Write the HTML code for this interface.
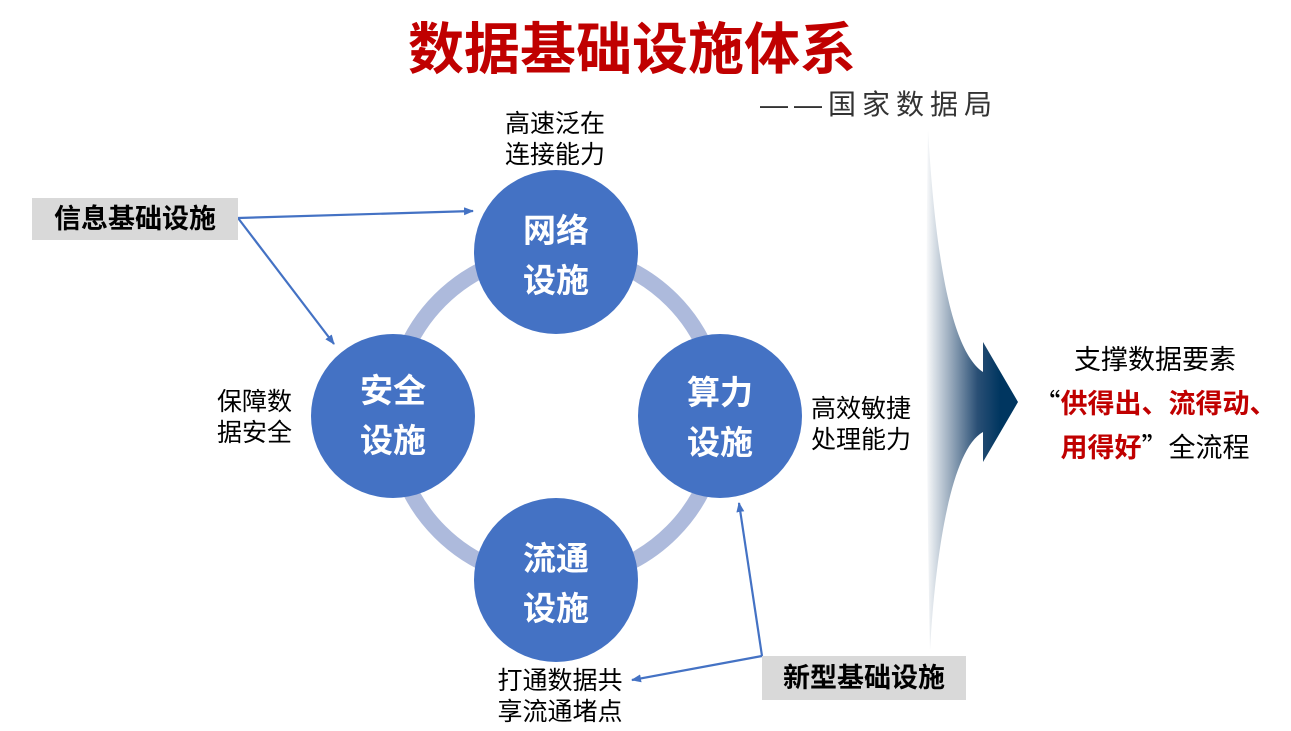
<!DOCTYPE html>
<html><head><meta charset="utf-8"><style>
body{margin:0;width:1291px;height:731px;background:#fff;overflow:hidden;position:relative;font-family:"Liberation Sans","Noto Sans CJK SC",sans-serif}
.t{position:absolute;white-space:nowrap}
.box{position:absolute;background:#d9d9d9;font-weight:bold;font-size:27px;color:#000;text-align:center}
.q{font-family:"Noto Sans CJK SC",sans-serif}
</style></head><body>
<svg width="1291" height="731" style="position:absolute;left:0;top:0">
<defs>
<linearGradient id="g" x1="925" y1="0" x2="1000" y2="0" gradientUnits="userSpaceOnUse">
<stop offset="0" stop-color="#fff"/><stop offset="0.7" stop-color="#2a4f75"/><stop offset="1" stop-color="#003660"/></linearGradient>
<marker id="a" markerWidth="10" markerHeight="8" refX="9" refY="4" orient="auto" markerUnits="userSpaceOnUse"><path d="M0,0 L10,4 L0,8z" fill="#4472c4"/></marker>
</defs>
<circle cx="556" cy="416" r="164" fill="none" stroke="#adbadc" stroke-width="16"/>
<circle cx="556" cy="252" r="82" fill="#4472c4"/>
<circle cx="393" cy="416" r="82" fill="#4472c4"/>
<circle cx="720" cy="416" r="82" fill="#4472c4"/>
<circle cx="556" cy="580" r="82" fill="#4472c4"/>
<path d="M928,130 C935,250 950,350 983,372 L983,342 L1018,402 L983,462 L983,432 C950,450 935,560 930,650 C927,500 925,300 928,130z" fill="url(#g)"/>
<g stroke="#4472c4" stroke-width="2.2" fill="none">
<line x1="238" y1="218" x2="473" y2="211" marker-end="url(#a)"/>
<line x1="238" y1="218" x2="334" y2="344" marker-end="url(#a)"/>
<line x1="762" y1="656" x2="739" y2="503" marker-end="url(#a)"/>
<line x1="762" y1="656" x2="632" y2="680" marker-end="url(#a)"/>
</g>
</svg>
<div class="t" style="left:0;width:1264px;top:16px;text-align:center;color:#c00000;font-weight:bold;font-size:56px;line-height:68px">数据基础设施体系</div>
<div class="t" style="left:760px;top:87px;font-size:28px;letter-spacing:6px;color:#333;line-height:36px">——国家数据局</div>
<div class="box" style="left:32px;top:198px;width:206px;height:42px;line-height:42px">信息基础设施</div>
<div class="box" style="left:762px;top:656px;width:204px;height:44px;line-height:44px">新型基础设施</div>
<div class="t" style="left:475px;width:160px;top:109px;text-align:center;font-size:25px;line-height:31px">高速泛在<br>连接能力</div>
<div class="t" style="left:217px;top:387px;font-size:25px;line-height:31px">保障数<br>据安全</div>
<div class="t" style="left:811px;top:394px;font-size:25px;line-height:31px">高效敏捷<br>处理能力</div>
<div class="t" style="left:480px;width:160px;top:666px;text-align:center;font-size:25px;line-height:31px">打通数据共<br>享流通堵点</div>
<div class="t" style="left:476px;width:160px;top:206px;text-align:center;color:#fff;font-weight:bold;font-size:33px;line-height:50px">网络<br>设施</div>
<div class="t" style="left:313px;width:160px;top:366px;text-align:center;color:#fff;font-weight:bold;font-size:33px;line-height:50px">安全<br>设施</div>
<div class="t" style="left:640px;width:160px;top:368px;text-align:center;color:#fff;font-weight:bold;font-size:33px;line-height:50px">算力<br>设施</div>
<div class="t" style="left:476px;width:160px;top:534px;text-align:center;color:#fff;font-weight:bold;font-size:33px;line-height:50px">流通<br>设施</div>
<div class="t" style="left:1030px;width:250px;top:340px;text-align:center;font-size:27px;line-height:41px">支撑数据要素<br><span class="q">“</span><b style="color:#c00000">供得出、流得动、</b><br><b style="color:#c00000">用得好</b><span class="q">”</span>全流程</div>
</body></html>
